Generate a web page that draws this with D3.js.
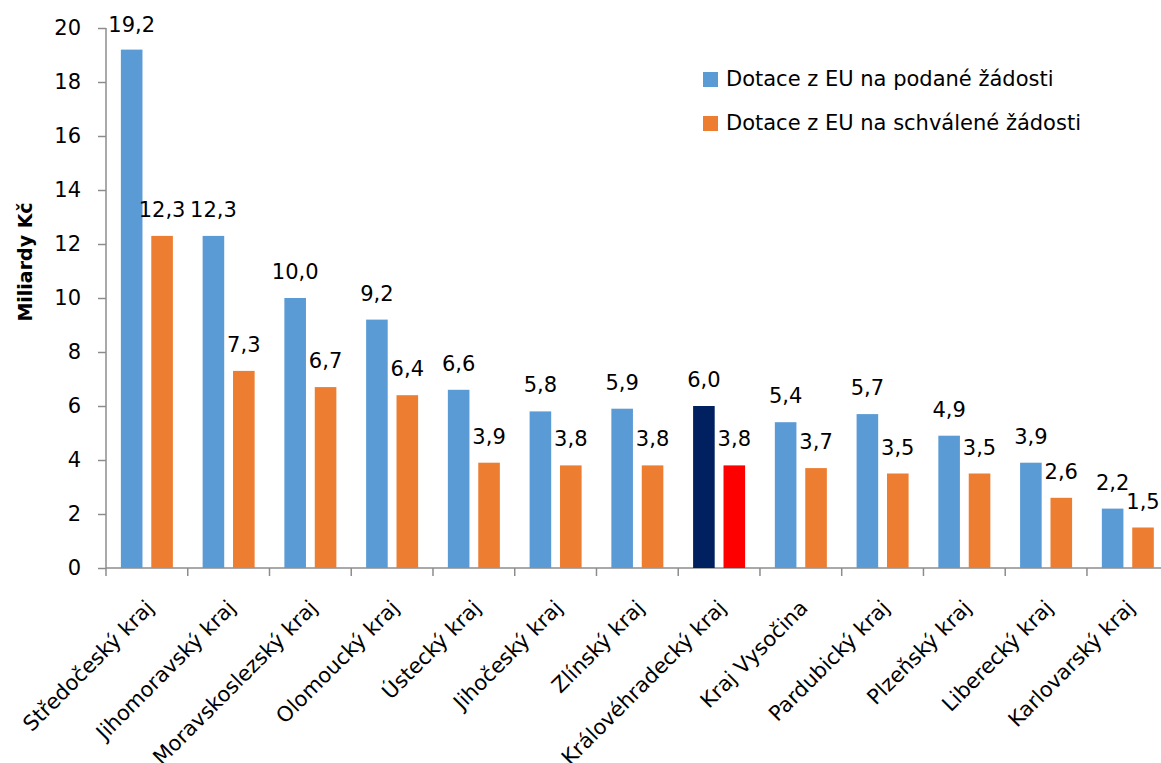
<!DOCTYPE html>
<html>
<head>
<meta charset="utf-8">
<script src="https://cdn.jsdelivr.net/npm/d3@7"></script>
<style>
  body { margin: 0; background: #fff; }
  text { font-family: "DejaVu Sans", sans-serif; fill: #000; }
</style>
</head>
<body>
<div id="graf"></div>
<script>
// kraje a hodnoty (mld. Kč)
var kraje = ["Středočeský kraj", "Jihomoravský kraj", "Moravskoslezský kraj", "Olomoucký kraj",
  "Ústecký kraj", "Jihočeský kraj", "Zlínský kraj", "Královéhradecký kraj", "Kraj Vysočina",
  "Pardubický kraj", "Plzeňský kraj", "Liberecký kraj", "Karlovarský kraj"];
var podane = [19.2, 12.3, 10.0, 9.2, 6.6, 5.8, 5.9, 6.0, 5.4, 5.7, 4.9, 3.9, 2.2];
var schvalene = [12.3, 7.3, 6.7, 6.4, 3.9, 3.8, 3.8, 3.8, 3.7, 3.5, 3.5, 2.6, 1.5];
var serie = ["Dotace z EU na podané žádosti", "Dotace z EU na schválené žádosti"];
var yTicks = [0, 2, 4, 6, 8, 10, 12, 14, 16, 18, 20];
var zvyrazneny = "Královéhradecký kraj";

(function() {
  var width = 1161, height = 763;
  var mLeft = 106, mRight = 1168.7, mTop = 28, mBottom = 568;
  var fs = "21px";

  var svg = d3.select("#graf").append("svg")
    .attr("width", width)
    .attr("height", height);

  var x = d3.scaleBand().domain(kraje).range([mLeft, mRight]);
  var x1 = d3.scaleBand().domain([0, 1]).range([x.bandwidth() / 2 - 26, x.bandwidth() / 2 + 26]).paddingInner(0.29);
  var y = d3.scaleLinear().domain([0, 20]).range([mBottom, mTop]);

  var barvy = ["#5B9BD5", "#ED7D31"];
  var barvyZv = ["#002060", "#FF0000"];

  // osa y
  var yAxis = svg.append("g")
    .attr("transform", "translate(" + mLeft + ",0)")
    .call(d3.axisLeft(y).tickValues(yTicks).tickSize(8).tickPadding(17).tickFormat(d3.format("d")));
  yAxis.selectAll("text").style("font-size", fs).style("font-family", "DejaVu Sans");
  yAxis.selectAll("line, path").attr("stroke", "#8c8c8c").attr("stroke-width", 1.5);
  yAxis.select("path").attr("d", "M0," + mTop + "V" + mBottom);

  // osa x
  var xAxis = svg.append("g")
    .attr("transform", "translate(0," + mBottom + ")");
  xAxis.append("line")
    .attr("x1", mLeft).attr("x2", mRight)
    .attr("stroke", "#8c8c8c").attr("stroke-width", 1.5);
  xAxis.selectAll(".tik")
    .data(kraje)
    .enter().append("line")
    .attr("class", "tik")
    .attr("x1", function(d) { return x(d); })
    .attr("x2", function(d) { return x(d); })
    .attr("y1", 0).attr("y2", 8)
    .attr("stroke", "#8c8c8c").attr("stroke-width", 1.5);

  xAxis.selectAll(".popisek")
    .data(kraje)
    .enter().append("text")
    .attr("class", "popisek")
    .attr("text-anchor", "end")
    .attr("dy", "0.35em")
    .style("font-size", fs)
    .attr("transform", function(d) {
      return "translate(" + (x(d) + x.bandwidth() / 2 + 3) + ",36) rotate(-45)";
    })
    .text(function(d) { return d; });

  // sloupce
  var data = [];
  kraje.forEach(function(k, i) {
    data.push({ kraj: k, s: 0, v: podane[i] });
    data.push({ kraj: k, s: 1, v: schvalene[i] });
  });

  function barva(d) {
    return d.kraj === zvyrazneny ? barvyZv[d.s] : barvy[d.s];
  }

  svg.selectAll(".bar")
    .data(data)
    .enter().append("rect")
    .attr("class", "bar")
    .attr("x", function(d) { return x(d.kraj) + x1(d.s); })
    .attr("width", x1.bandwidth())
    .attr("y", function(d) { return y(d.v); })
    .attr("height", function(d) { return y(0) - y(d.v); })
    .attr("fill", barva);

  svg.selectAll(".hodnota")
    .data(data)
    .enter().append("text")
    .attr("class", "hodnota")
    .attr("text-anchor", "middle")
    .style("font-size", fs)
    .attr("x", function(d) { return x(d.kraj) + x1(d.s) + x1.bandwidth() / 2; })
    .attr("y", function(d) { return Math.max(y(d.v) - 19, 32); })
    .text(function(d) { return d3.format(".1f")(d.v).replace(".", ","); });

  // název osy y
  svg.append("text")
    .attr("transform", "translate(32,262) rotate(-90)")
    .attr("text-anchor", "middle")
    .style("font-size", "19px")
    .style("font-weight", "bold")
    .text("Miliardy Kč");

  // legenda
  var leg = svg.selectAll(".leg")
    .data(serie)
    .enter().append("g")
    .attr("class", "leg")
    .attr("transform", function(d, i) { return "translate(703," + (72 + i * 44) + ")"; });
  leg.append("rect")
    .attr("width", 15).attr("height", 15)
    .attr("fill", function(d, i) { return barvy[i]; });
  leg.append("text")
    .attr("x", 23).attr("y", 14)
    .style("font-size", fs)
    .text(function(d) { return d; });
})();
</script>
</body>
</html>
